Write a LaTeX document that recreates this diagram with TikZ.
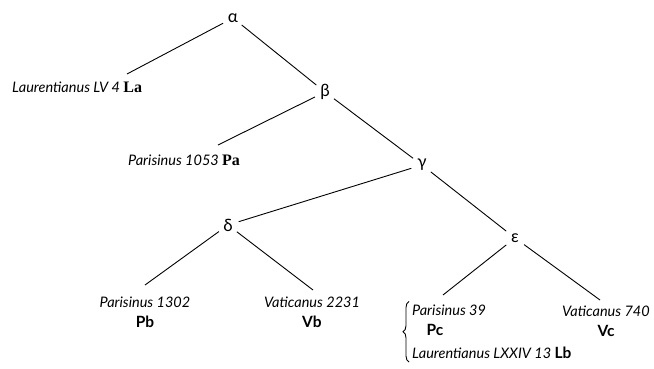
\documentclass[tikz,border=0pt]{standalone}
\usepackage{fontspec}
\setmainfont{Lato}
\newfontfamily\sigfont{Liberation Serif}
\usetikzlibrary{decorations.pathreplacing}

\tikzset{
  greek/.style={circle, inner sep=0pt, minimum size=22pt, font=\fontsize{17}{17}\selectfont},
  ms/.style={inner sep=0pt, font=\fontsize{14.5}{20}\selectfont\itshape},
  sig/.style={font=\fontsize{15.5}{20}\selectfont\upshape\bfseries},
  branch/.style={line width=0.9pt, black},
}
\newcommand\siglum[1]{{\fontsize{15.5}{20}\selectfont\upshape\bfseries #1}}
\newcommand\serifsiglum[1]{{\fontsize{16}{20}\selectfont\upshape\sigfont\bfseries #1}}

\begin{document}
\begin{tikzpicture}[x=1pt, y=-1pt]
  \useasboundingbox (0,0) rectangle (654,369);

  % hyparchetypes
  \node[greek] (alpha)   at (233,18)  {α};
  \node[greek] (beta)    at (325,92)  {β};
  \node[greek] (gamma)   at (422,165) {γ};
  \node[greek] (delta)   at (228,225) {δ};
  \node[greek] (epsilon) at (515,238) {ε};

  % manuscripts
  \node[ms, anchor=west] (La) at (12,87)  {Laurentianus LV 4 \serifsiglum{La}};
  \node[ms, anchor=west] (Pa) at (128,160) {Parisinus 1053 \serifsiglum{Pa}};
  \node[ms, align=center] (Pb) at (145,312) {Parisinus 1302\\\siglum{Pb}};
  \node[ms, align=center] (Vb) at (312,312) {Vaticanus 2231\\\siglum{Vb}};
  \node[ms, anchor=west] (P39) at (412,310) {Parisinus 39};
  \node[ms] (Pc) at (435,330) {\siglum{Pc}};
  \node[ms, anchor=west] (Lb) at (412,353) {Laurentianus LXXIV 13 \siglum{Lb}};
  \node[ms, align=center] (Vc) at (606,321) {Vaticanus 740\\\siglum{Vc}};

  % ends of the branches above the manuscripts
  \coordinate (laEnd) at (127,74);
  \coordinate (paEnd) at (218,145);
  \coordinate (pbEnd) at (145,285);
  \coordinate (vbEnd) at (313,290);
  \coordinate (pcEnd) at (443,295);
  \coordinate (vcEnd) at (600,300);

  % stemma
  \draw[branch] (alpha) -- (laEnd);
  \draw[branch] (alpha) -- (beta);
  \draw[branch] (beta) -- (paEnd);
  \draw[branch] (beta) -- (gamma);
  \draw[branch] (gamma) -- (delta);
  \draw[branch] (gamma) -- (epsilon);
  \draw[branch] (delta) -- (pbEnd);
  \draw[branch] (delta) -- (vbEnd);
  \draw[branch] (epsilon) -- (pcEnd);
  \draw[branch] (epsilon) -- (vcEnd);

  % Pc and Lb grouped
  \draw[line width=0.9pt, decorate, decoration={brace, amplitude=6pt}]
    ([xshift=-3pt, yshift=-3pt]Lb.south west) -- ([xshift=-3pt, yshift=3pt]P39.north west);
\end{tikzpicture}
\end{document}
